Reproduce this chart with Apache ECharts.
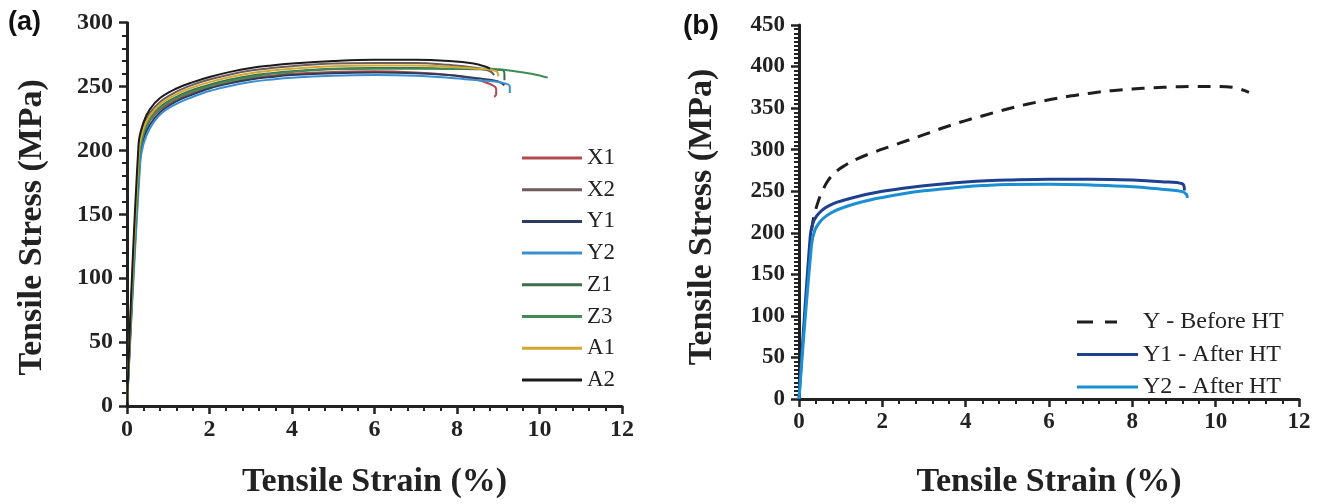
<!DOCTYPE html>
<html><head><meta charset="utf-8">
<script src="https://cdn.jsdelivr.net/npm/echarts@6/dist/echarts.min.js"></script>
<style>html,body{margin:0;padding:0;background:#fff}#c{width:1317px;height:504px}</style>
</head><body><div id="c"></div>
<script>
// ---------- data ----------
const strainTicks = [0, 2, 4, 6, 8, 10, 12];
const stressTicksA = [0, 50, 100, 150, 200, 250, 300];
const stressTicksB = [0, 50, 100, 150, 200, 250, 300, 350, 400, 450];

const namesA = ['X1', 'X2', 'Y1', 'Y2', 'Z1', 'Z3', 'A1', 'A2'];
const X1 = [[0,0],[0.3,195],[0.4,212],[0.55,223],[0.8,232],[1.2,240],[1.6,245.5],[2,249.5],[2.5,253.5],[3,256.5],[3.5,258.5],[4,260],[5,261.5],[6,262],[7,261],[7.8,259],[8.4,256],[8.8,252],[8.95,248],[8.95,244],[8.9,242]];
const X2 = [[0,0],[0.29,200],[0.4,219],[0.55,229],[0.8,238],[1.2,246],[1.6,251.5],[2,255.5],[2.5,259.5],[3,262.5],[3.5,264.5],[4,266],[5,268],[6,268.5],[7,268.5],[7.8,267],[8.4,265],[8.8,262],[8.9,259]];
const Y1 = [[0,0],[0.31,192],[0.4,209],[0.55,220],[0.8,230],[1.2,238.5],[1.6,244],[2,248.5],[2.5,252.5],[3,255.5],[3.5,257.5],[4,259],[5,260.5],[6,261],[7,260.5],[7.8,259],[8.5,256.5],[9.0,254],[9.15,251]];
const Y2 = [[0,0],[0.32,190],[0.4,205],[0.55,217],[0.8,228],[1.2,236.5],[1.6,242],[2,246.5],[2.5,250.5],[3,253.5],[3.5,255.5],[4,257],[5,258.5],[6,259],[7,258.5],[7.8,257],[8.5,255],[9.1,253],[9.28,250],[9.28,245]];
const Z1 = [[0,0],[0.3,196],[0.4,214],[0.55,225],[0.8,234],[1.2,242],[1.6,247.5],[2,251.5],[2.5,255.5],[3,258.5],[3.5,260.5],[4,262],[5,264],[6,264.5],[7,264.5],[7.8,264],[8.5,263.5],[9.1,263],[9.15,259],[9.15,255]];
const Z3 = [[0,0],[0.3,195],[0.4,213],[0.55,224],[0.8,233],[1.2,241],[1.6,246.5],[2,250.5],[2.5,254.5],[3,257.5],[3.5,260],[4,261.5],[5,263.5],[6,264],[7,264],[8,264],[8.8,264],[9.4,262],[9.8,260],[10.2,257]];
const A1 = [[0,0],[0.29,199],[0.4,217],[0.55,227],[0.8,236],[1.2,244],[1.6,249.5],[2,253.5],[2.5,257.5],[3,260.5],[3.5,262.5],[4,264],[5,266],[6,266.5],[7,266.5],[7.8,265.5],[8.5,264],[8.95,262],[9.0,258]];
const A2 = [[0,0],[0.28,205],[0.4,222],[0.55,232],[0.8,241],[1.2,248.5],[1.6,253.5],[2,257.5],[2.5,261.5],[3,264.5],[3.5,266.5],[4,268],[5,270],[6,271],[7,271],[7.8,270],[8.4,268],[8.7,265.5],[8.8,264]];
const seriesA = [X1, X2, Y1, Y2, Z1, Z3, A1, A2];

const namesB = ['Y - Before HT', 'Y1 - After HT', 'Y2 - After HT'];
const YBefore = [[0.3,203],[0.36,220],[0.45,236],[0.55,249],[0.7,263],[0.9,274],[1.1,281],[1.4,289],[1.8,297],[2.2,304],[2.6,311],[3,318],[3.5,327],[4,335],[4.5,342],[5,349],[5.5,355],[6,360],[6.5,364.5],[7,368],[7.5,371],[8,373],[8.5,374.5],[9,375.5],[9.5,376],[10,376],[10.4,375],[10.8,369]];
const Y1After = [[0,0],[0.27,196],[0.33,211],[0.42,220],[0.55,227],[0.7,232],[0.9,236.5],[1.2,241],[1.6,246],[2,250],[2.5,253.5],[3,256.5],[3.5,259],[4,261],[4.5,262.5],[5,263.5],[6,264.5],[7,264.5],[8,263.5],[8.7,261.5],[9.2,259],[9.25,251]];
const Y2After = [[0,0],[0.3,185],[0.38,203],[0.5,213],[0.65,220],[0.85,226],[1.1,231],[1.5,237],[2,242.5],[2.5,247],[3,250.5],[3.5,253],[4,255.5],[4.5,257],[5,258],[6,258.5],[7,257.5],[8,255.5],[8.7,252.5],[9.2,249.5],[9.3,246],[9.32,242]];
const seriesB = [YBefore, Y1After, Y2After];

// ---------- styles ----------
const colorsA = ['#b24a4f', '#6e5b5c', '#2b3d5c', '#3b8fd0', '#3d6b4c', '#3f8c57', '#d2a92e', '#1b1b1b'];
const colorsB = ['#1e1e1e', '#1f3f8f', '#1b8fd2'];
const ink = '#222';
const serif = 'Liberation Serif';

function xAxisCfg(gridIndex, gap, labelSize) {
  return {
    type: 'value', gridIndex,
    min: strainTicks[0], max: strainTicks[strainTicks.length - 1],
    interval: strainTicks[1] - strainTicks[0],
    name: 'Tensile Strain (%)', nameLocation: 'middle', nameGap: gap,
    nameTextStyle: { fontFamily: serif, fontWeight: 'bold', fontSize: 34, color: ink },
    axisLine: { lineStyle: { color: ink, width: 3 } },
    axisTick: { length: 8, lineStyle: { color: ink, width: 2.5 } },
    minorTick: { show: true, splitNumber: 5, length: 5, lineStyle: { color: ink, width: 2 } },
    splitLine: { show: false },
    axisLabel: { margin: 12, fontFamily: serif, fontWeight: 'bold', fontSize: labelSize, color: ink }
  };
}
function yAxisCfg(gridIndex, ticks, minorSplit, gap, pad, labelSize) {
  return {
    type: 'value', gridIndex,
    min: ticks[0], max: ticks[ticks.length - 1], interval: ticks[1] - ticks[0],
    name: 'Tensile Stress (MPa)', nameLocation: 'middle', nameGap: gap,
    nameTextStyle: { fontFamily: serif, fontWeight: 'bold', fontSize: 34, color: ink, padding: pad },
    axisLine: { show: true, lineStyle: { color: ink, width: 3 } },
    axisTick: { show: true, length: 8, lineStyle: { color: ink, width: 2.5 } },
    minorTick: { show: true, splitNumber: minorSplit, length: 5, lineStyle: { color: ink, width: 2 } },
    splitLine: { show: false },
    axisLabel: { margin: 14, fontFamily: serif, fontWeight: 'bold', fontSize: labelSize, color: ink }
  };
}

const series = [];
seriesA.forEach((d, i) => series.push({
  name: namesA[i], type: 'line', xAxisIndex: 0, yAxisIndex: 0, data: d,
  showSymbol: false, symbol: 'none', smooth: 0.4,
  lineStyle: { color: colorsA[i], width: 2 }, itemStyle: { color: colorsA[i] }
}));
seriesB.forEach((d, i) => series.push({
  name: namesB[i], type: 'line', xAxisIndex: 1, yAxisIndex: 1, data: d,
  showSymbol: false, symbol: 'none', smooth: 0.4,
  lineStyle: { color: colorsB[i], width: 3, type: i === 0 ? [13, 9] : 'solid' },
  itemStyle: { color: colorsB[i] }
}));

const dashIcon = 'path://M0,0H16V3H0Z M28,0H40V3H28Z M60.9,0H61V0.05H60.9Z';

const chart = echarts.init(document.getElementById('c'), null, { renderer: 'canvas' });
chart.setOption({
  backgroundColor: '#fff',
  animation: false,
  grid: [
    { left: 127, right: 695, top: 22.7, bottom: 97.3 },
    { left: 799, right: 18, top: 25, bottom: 91.3 }
  ],
  xAxis: [xAxisCfg(0, 59, 24), xAxisCfg(1, 66, 23)],
  yAxis: [yAxisCfg(0, stressTicksA, 5, 78, [0, 26, 0, 0], 24), yAxisCfg(1, stressTicksB, 10, 80, [0, 10, 0, 0], 23)],
  legend: [
    {
      data: namesA, orient: 'vertical', left: 522, top: 146, padding: 0,
      icon: 'rect', itemWidth: 60, itemHeight: 3, itemGap: 7.7,
      textStyle: { fontFamily: serif, fontSize: 23, color: ink, lineHeight: 24 }
    },
    {
      data: [
        { name: namesB[0], icon: dashIcon },
        { name: namesB[1] }, { name: namesB[2] }
      ],
      orient: 'vertical', left: 1077, top: 310, padding: 0,
      icon: 'rect', itemWidth: 61, itemHeight: 3, itemGap: 8.5,
      textStyle: { fontFamily: serif, fontSize: 24, color: ink, lineHeight: 24 }
    }
  ],
  graphic: [
    { type: 'text', left: 8, top: 9, style: { text: '(a)', font: 'bold 27px "Liberation Sans"', fill: '#111' } },
    { type: 'text', left: 683, top: 12, style: { text: '(b)', font: 'bold 28px "Liberation Sans"', fill: '#111' } }
  ],
  series
});
</script></body></html>
